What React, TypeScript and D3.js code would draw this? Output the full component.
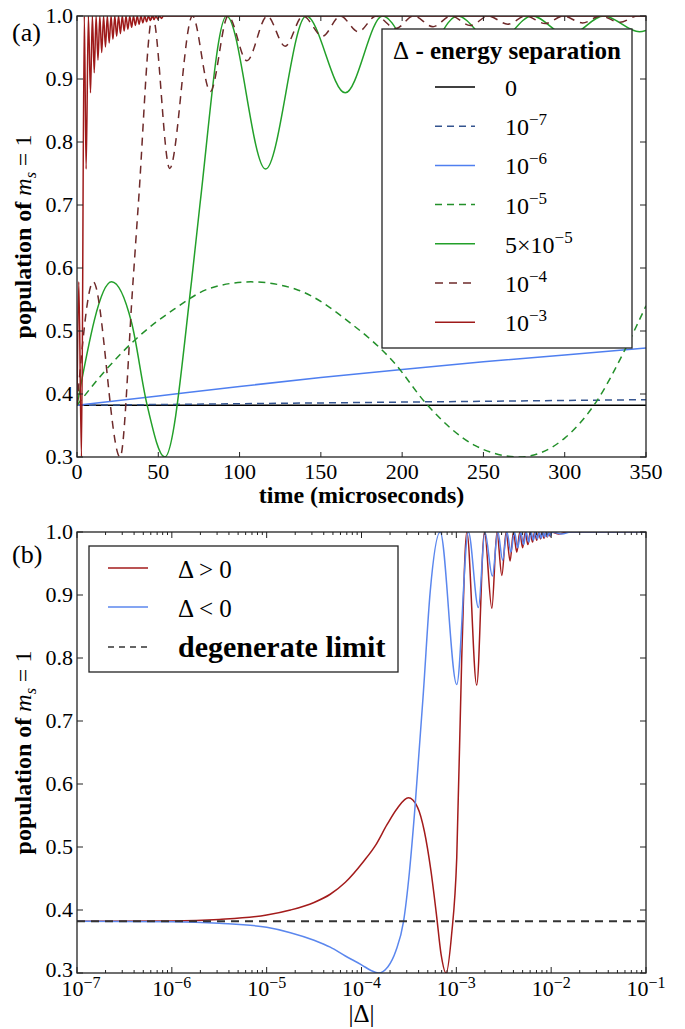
import React from 'react';
import * as d3 from 'd3';

// ---- panel (a): population vs time, one array per energy separation ----
const timeTicks = [0, 50, 100, 150, 200, 250, 300, 350];
const popTicks = [0.3, 0.4, 0.5, 0.6, 0.7, 0.8, 0.9, 1.0];

const sep0 = [[0, 0.382], [350, 0.382]];
const sep1e7 = [[0, 0.382], [175, 0.3865], [350, 0.391]];
const sep1e6 = [[0, 0.382], [50, 0.397], [100, 0.412], [150, 0.426], [200, 0.439], [250, 0.451], [300, 0.462], [350, 0.473]];
const sep1e5 = [[0, 0.382], [16, 0.433], [37, 0.489], [60, 0.535], [82, 0.568], [107, 0.578], [135, 0.566], [168, 0.513],
  [195, 0.45], [215, 0.384], [245, 0.318], [272, 0.3], [300, 0.33], [320, 0.39], [337, 0.47], [350, 0.54]];
const sep5e5 = [[0, 0.382], [21.3, 0.578], [33.6, 0.513], [43, 0.384], [54, 0.3], [70.5, 0.58], [75.6, 0.7], [92, 1.0],
  [116, 0.757], [141, 1.0], [165, 0.878], [188, 1.0], [211, 0.93], [234, 1.0], [257, 0.954], [280, 1.0],
  [302, 0.968], [324, 1.0], [346, 0.975], [350, 0.977]];
const sep1e4 = [[0, 0.382], [10, 0.578], [26.5, 0.3], [34.5, 0.58], [37.7, 0.7], [46.5, 1.0], [57, 0.758], [71, 1.0],
  [82, 0.88], [93, 1.0], [104.5, 0.929], [117, 1.0], [128, 0.952], [139, 1.0], [151, 0.968], [162, 1.0],
  [173, 0.975], [184, 1.0], [196, 0.98], [207, 1.0], [219, 0.983], [230, 1.0], [242, 0.985], [253, 1.0],
  [265, 0.987], [276, 1.0], [288, 0.988], [299, 1.0], [311, 0.989], [322, 1.0], [334, 0.99], [345, 1.0], [350, 0.998]];
const sep1e3 = [[0, 0.382], [1.1, 0.578], [2.75, 0.3], [4.5, 1.0], [5.6, 0.757], [7.0, 1.0], [8.3, 0.878], [9.45, 1.0],
  [10.6, 0.91], [11.75, 1.0], [12.9, 0.93], [14.05, 1.0], [15.2, 0.942], [16.35, 1.0], [17.5, 0.951], [18.65, 1.0],
  [19.8, 0.957], [20.95, 1.0], [22.1, 0.963], [23.25, 1.0], [24.4, 0.968], [25.55, 1.0], [26.7, 0.972], [27.85, 1.0],
  [29.0, 0.976], [30.15, 1.0], [31.3, 0.979], [32.45, 1.0], [33.6, 0.982], [34.75, 1.0], [35.9, 0.985], [37.05, 1.0],
  [38.2, 0.987], [39.35, 1.0], [40.5, 0.989], [41.65, 1.0], [42.8, 0.991], [43.95, 1.0], [45.1, 0.993], [46.25, 1.0],
  [47.4, 0.994], [48.55, 1.0], [49.7, 0.995], [50.85, 1.0], [52, 0.996], [53.15, 1.0], [350, 1.0]];

// ---- panel (b): population vs |Δ| ----
const decadeTicks = [-7, -6, -5, -4, -3, -2, -1];
const deltaPos = [[1e-7, 0.382], [1e-6, 0.3825], [3.16e-6, 0.385], [1e-5, 0.392], [1.78e-5, 0.4], [3.16e-5, 0.412],
  [4.68e-5, 0.425], [6.76e-5, 0.444], [1.05e-4, 0.477], [1.41e-4, 0.503], [1.85e-4, 0.535], [2.4e-4, 0.562],
  [3.12e-4, 0.578], [3.9e-4, 0.563], [4.6e-4, 0.525], [5.4e-4, 0.462], [6.2e-4, 0.39], [6.9e-4, 0.33],
  [7.8e-4, 0.3], [8.9e-4, 0.36], [1.01e-3, 0.483], [1.14e-3, 0.8], [1.29e-3, 1.0], [1.64e-3, 0.757], [1.98e-3, 1.0],
  [2.37e-3, 0.879], [2.68e-3, 1.0], [3.02e-3, 0.931], [3.35e-3, 1.0], [3.69e-3, 0.954], [4.0e-3, 1.0], [4.34e-3, 0.968],
  [4.67e-3, 1.0], [5.0e-3, 0.975], [5.34e-3, 1.0], [5.68e-3, 0.98], [6.02e-3, 1.0], [6.36e-3, 0.984], [6.7e-3, 1.0],
  [7.04e-3, 0.987], [7.38e-3, 1.0], [7.72e-3, 0.989], [8.06e-3, 1.0], [8.4e-3, 0.99], [8.74e-3, 1.0], [9.08e-3, 0.992],
  [9.42e-3, 1.0], [9.76e-3, 0.993], [1.01e-2, 1.0], [1.2e-2, 0.997], [1.5e-2, 1.0], [1e-1, 1.0]];
const deltaNeg = [[1e-7, 0.382], [1e-6, 0.3815], [3.16e-6, 0.379], [1e-5, 0.3725], [1.78e-5, 0.364], [3.16e-5, 0.352],
  [4.68e-5, 0.341], [6.76e-5, 0.327], [1.0e-4, 0.313], [1.26e-4, 0.304], [1.51e-4, 0.3], [1.9e-4, 0.31],
  [2.3e-4, 0.335], [2.77e-4, 0.381], [3.2e-4, 0.46], [3.67e-4, 0.564], [4.5e-4, 0.747], [5.3e-4, 0.905],
  [6.75e-4, 1.0], [1.01e-3, 0.758], [1.34e-3, 1.0], [1.71e-3, 0.88], [2.0e-3, 1.0], [2.4e-3, 0.93], [2.74e-3, 1.0],
  [3.08e-3, 0.955], [3.42e-3, 1.0], [3.76e-3, 0.968], [4.1e-3, 1.0], [4.44e-3, 0.975], [4.78e-3, 1.0], [5.12e-3, 0.98],
  [5.46e-3, 1.0], [5.8e-3, 0.984], [6.14e-3, 1.0], [6.48e-3, 0.987], [6.82e-3, 1.0], [7.16e-3, 0.989], [7.5e-3, 1.0],
  [7.84e-3, 0.99], [8.18e-3, 1.0], [8.52e-3, 0.992], [8.86e-3, 1.0], [9.2e-3, 0.993], [9.54e-3, 1.0], [9.88e-3, 0.994],
  [1.02e-2, 1.0], [1.3e-2, 0.997], [1.6e-2, 1.0], [1e-1, 1.0]];
const degenerate = [[1e-7, 0.382], [1e-1, 0.382]];

const W = 685, H = 1029;
const L = 77, R = 646;
const topA = 16, botA = 457;
const topB = 532, botB = 973;
const FONT = "'Liberation Serif', 'DejaVu Serif', serif";

const x = d3.scaleLinear().domain([0, 350]).range([L, R]);
const yA = d3.scaleLinear().domain([0.3, 1.0]).range([botA, topA]);
const xB = d3.scaleLog().domain([1e-7, 1e-1]).range([L, R]);
const yB = d3.scaleLinear().domain([0.3, 1.0]).range([botB, topB]);

const lineA = d3.line<number[]>().x(d => x(d[0])).y(d => yA(d[1])).curve(d3.curveMonotoneX);
const lineB = d3.line<number[]>().x(d => xB(d[0])).y(d => yB(d[1])).curve(d3.curveMonotoneX);

const seriesA = [
  { data: sep0, color: '#000000', dash: null, label: ['0', null] },
  { data: sep1e7, color: '#34548f', dash: '7,5', label: ['10', '−7'] },
  { data: sep1e6, color: '#4f7ff0', dash: null, label: ['10', '−6'] },
  { data: sep1e5, color: '#23902a', dash: '7,5', label: ['10', '−5'] },
  { data: sep5e5, color: '#23a02a', dash: null, label: ['5×10', '−5'] },
  { data: sep1e4, color: '#6e2a2a', dash: '8,6', label: ['10', '−4'] },
  { data: sep1e3, color: '#9e1a1a', dash: null, label: ['10', '−3'] },
];

const fmt = d3.format('.1f');

const Frame = ({ top, bot }: { top: number; bot: number }) => (
  <rect x={L} y={top} width={R - L} height={bot - top} fill="none" stroke="#222" strokeWidth={1.3} />
);

const YAxis = ({ y, lift = 0 }: any) => (
  <g>
    {popTicks.map(t => (
      <g key={t}>
        <line x1={L} x2={L + 6} y1={y(t)} y2={y(t)} stroke="#222" />
        <line x1={R} x2={R - 6} y1={y(t)} y2={y(t)} stroke="#222" />
        <text x={L - 4} y={y(t) + 7 - (t === 0.3 ? lift : 0)} textAnchor="end" fontSize={22}>{fmt(t)}</text>
      </g>
    ))}
  </g>
);

const YLabel = ({ cy }: { cy: number }) => (
  <text transform={`translate(31,${cy}) rotate(-90)`} textAnchor="middle" fontSize={24}>
    <tspan fontWeight="bold">{'population of '}</tspan>
    <tspan fontStyle="italic">m</tspan>
    <tspan fontStyle="italic" fontSize={16} dy={5}>s</tspan>
    <tspan dy={-5}>{' = 1'}</tspan>
  </text>
);

export default function App() {
  const minorB: number[] = [];
  decadeTicks.slice(0, -1).forEach(e => {
    for (let k = 2; k <= 9; k++) minorB.push(k * Math.pow(10, e));
  });

  return (
    <svg width={W} height={H} style={{ position: 'absolute', left: 0, top: 0, background: '#fff', fontFamily: FONT }}>
      <defs>
        <clipPath id="clipA"><rect x={L} y={topA} width={R - L} height={botA - topA} /></clipPath>
        <clipPath id="clipB"><rect x={L} y={topB} width={R - L} height={botB - topB} /></clipPath>
      </defs>
      <rect width={W} height={H} fill="#fff" />

      {/* ---------- panel (a) ---------- */}
      <g clipPath="url(#clipA)">
        {seriesA.map((s, i) => (
          <path key={i} d={lineA(s.data) || ''} fill="none" stroke={s.color} strokeWidth={1.5}
            strokeDasharray={s.dash || undefined} />
        ))}
      </g>
      <Frame top={topA} bot={botA} />
      {timeTicks.map(t => (
        <g key={t}>
          <line x1={x(t)} x2={x(t)} y1={botA} y2={botA - 5} stroke="#222" />
          <line x1={x(t)} x2={x(t)} y1={topA} y2={topA + 5} stroke="#222" />
          <text x={x(t)} y={botA + 22} textAnchor="middle" fontSize={22}>{t}</text>
        </g>
      ))}
      <YAxis y={yA} />
      <YLabel cy={(topA + botA) / 2} />
      <text x={(L + R) / 2} y={503} textAnchor="middle" fontSize={24} fontWeight="bold">time (microseconds)</text>
      <text x={12} y={41} fontSize={26}>(a)</text>

      {/* legend (a) */}
      <g>
        <rect x={382} y={29} width={250} height={319} fill="#fff" stroke="#222" strokeWidth={1.3} />
        <text x={507} y={59} textAnchor="middle" fontSize={25}>
          <tspan>Δ</tspan>
          <tspan fontWeight="bold">{' - energy separation'}</tspan>
        </text>
        {seriesA.map((s, i) => {
          const ly = 87 + i * 39.2;
          return (
            <g key={i}>
              <line x1={435} x2={475} y1={ly} y2={ly} stroke={s.color} strokeWidth={1.5}
                strokeDasharray={s.dash || undefined} />
              <text x={505} y={ly + 9} fontSize={24}>
                <tspan>{s.label[0]}</tspan>
                {s.label[1] && <tspan dy={-10} fontSize={17}>{s.label[1]}</tspan>}
              </text>
            </g>
          );
        })}
      </g>

      {/* ---------- panel (b) ---------- */}
      <g clipPath="url(#clipB)">
        <path d={lineB(deltaPos) || ''} fill="none" stroke="#a31b1b" strokeWidth={1.5} />
        <path d={lineB(deltaNeg) || ''} fill="none" stroke="#5b87ee" strokeWidth={1.5} />
        <path d={lineB(degenerate) || ''} fill="none" stroke="#333" strokeWidth={2} strokeDasharray="8,6" />
      </g>
      <Frame top={topB} bot={botB} />
      {minorB.map(v => (
        <g key={v}>
          <line x1={xB(v)} x2={xB(v)} y1={botB} y2={botB - 3} stroke="#222" />
          <line x1={xB(v)} x2={xB(v)} y1={topB} y2={topB + 3} stroke="#222" />
        </g>
      ))}
      {decadeTicks.map(e => {
        const v = Math.pow(10, e);
        return (
          <g key={e}>
            <line x1={xB(v)} x2={xB(v)} y1={botB} y2={botB - 6} stroke="#222" />
            <line x1={xB(v)} x2={xB(v)} y1={topB} y2={topB + 6} stroke="#222" />
            <text x={xB(v) + (e === -7 ? 4 : 0)} y={botB + 23} textAnchor="middle" fontSize={22}>
              <tspan>10</tspan>
              <tspan dy={-8} fontSize={16}>{'−' + Math.abs(e)}</tspan>
            </text>
          </g>
        );
      })}
      <YAxis y={yB} lift={3} />
      <YLabel cy={(topB + botB) / 2} />
      <text x={(L + R) / 2} y={1022} textAnchor="middle" fontSize={25}>|Δ|</text>
      <text x={12} y={563} fontSize={26}>(b)</text>

      {/* legend (b) */}
      <g>
        <rect x={89} y={546} width={309} height={126} fill="#fff" stroke="#222" strokeWidth={1.3} />
        <line x1={108} x2={148} y1={568} y2={568} stroke="#a31b1b" strokeWidth={1.5} />
        <text x={178} y={578} fontSize={25}>Δ &gt; 0</text>
        <line x1={108} x2={148} y1={607} y2={607} stroke="#5b87ee" strokeWidth={1.5} />
        <text x={178} y={617} fontSize={25}>Δ &lt; 0</text>
        <line x1={108} x2={148} y1={647} y2={647} stroke="#333" strokeWidth={1.5} strokeDasharray="6,5" />
        <text x={178} y={657} fontSize={30} fontWeight="bold">degenerate limit</text>
      </g>
    </svg>
  );
}
